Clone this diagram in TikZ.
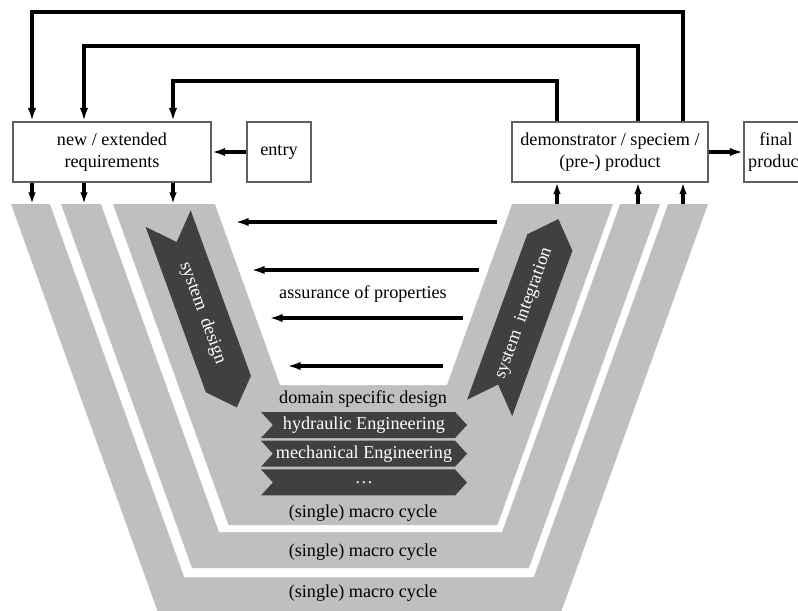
\documentclass[tikz,border=0pt]{standalone}
\usepackage{fontspec}
\setmainfont{Liberation Serif}
\usetikzlibrary{arrows.meta, shapes.symbols, positioning}
\tikzset{>={Latex[width=4.6pt,length=7.5pt]}}
\definecolor{bandGray}{RGB}{191,191,191}
\definecolor{darkGray}{RGB}{64,64,64}
\definecolor{frameGray}{RGB}{96,96,96}

\begin{document}
\begin{tikzpicture}[
    x = 0.55pt, y = -0.55pt,
    font = \fontsize{10}{12}\selectfont,
    box/.style = {draw=frameGray, line width=0.6pt, fill=white, align=center,
        minimum height=33pt, inner sep=1pt},
    bar/.style = {shape=signal, signal from=west, signal to=east, fill=darkGray,
        text=white, inner sep=0pt, signal pointer angle=95,
        minimum width=113.3pt, minimum height=14.3pt},
    phase/.style = {shape=signal, signal from=west, signal to=east, fill=darkGray,
        text=white, inner sep=1pt, signal pointer angle=88,
        minimum width=110.5pt, minimum height=26.4pt},
    loop/.style = {->, line width=2pt},
    feed/.style = {->, line width=1.8pt, >={Latex[width=4.2pt,length=6.4pt]}}
  ]
  \useasboundingbox (0,0) rectangle (798,610);
  \clip (0,0) rectangle (798,610);

  \foreach \lx/\rx/\by/\col in {11/708/612/bandGray, 50/668/577/white,
      61/660/568/bandGray, 101/620/532/white, 113/613/525/bandGray, 215/512/385/white}
    \fill[\col] (\lx,204) -- ({\lx+0.36*(\by-204)},\by)
      -- ({\rx-0.36*(\by-204)},\by) -- (\rx,204) -- cycle;

  \node[box, minimum width=108.9pt] (req) at (112,152) {new / extended\\requirements};
  \node[box, minimum width=35.2pt] (entry) at (279,152) {entry};
  \node[box, minimum width=107.8pt] (demo) at (610,152) {demonstrator / speciem /\\(pre-) product};
  \node[box, minimum width=35.2pt] (final) at (776,152) {final\\product};

  \draw[loop] (entry) -- (req);
  \draw[loop] (demo) -- (final);

  \foreach \lx/\rx/\ty [count=\i] in {32/683/12, 84/638/46, 173/557/81} {
    \coordinate (fbL\i) at (\lx,\ty);
    \coordinate (fbR\i) at (\rx,\ty);
    \draw[loop] (demo.north -| fbR\i) -- (fbR\i) -- (fbL\i) -- (req.north -| fbL\i);
    \coordinate (inB\i) at (\lx,204);
    \coordinate (outB\i) at (\rx,204);
    \draw[feed] (req.south -| inB\i) -- (inB\i);
    \draw[feed] (outB\i) -- (demo.south -| outB\i);
  }

  \foreach \sx/\ex/\ay [count=\i] in {497/235/222, 479/251/270, 463/269/318, 443/287/366} {
    \coordinate (asS\i) at (\sx,\ay);
    \coordinate (asE\i) at (\ex,\ay);
    \draw[loop] (asS\i) -- (asE\i);
  }
  \node (assure) at (363,294) {assurance of properties};

  \node[phase, rotate=-70] (sysdes) at (202.5,313) {system\ \ design};
  \node[phase, rotate=70] (sysint) at (524,313.5) {system\ \ integration};

  \node (domain) at (363,399) {domain specific design};
  \node[bar] (hydr) at (364,425) {hydraulic Engineering};
  \node[bar, below=1.1pt of hydr] (mech) {mechanical Engineering};
  \node[bar, below=1.1pt of mech] (more) {\dots};

  \foreach \y [count=\i] in {513, 552, 593}
    \node (cycle\i) at (363,\y) {(single) macro cycle};
\end{tikzpicture}
\end{document}
